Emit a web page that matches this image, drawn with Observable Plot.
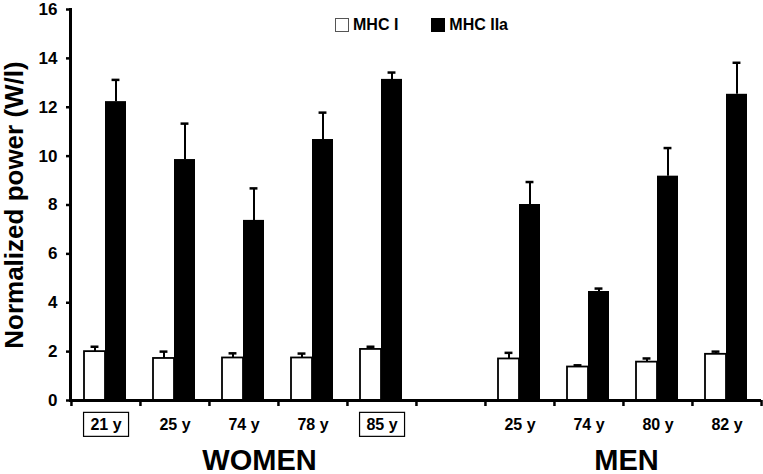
<!DOCTYPE html>
<html>
<head>
<meta charset="utf-8">
<script src="https://cdn.jsdelivr.net/npm/d3@7"></script>
<script src="https://cdn.jsdelivr.net/npm/@observablehq/plot@0.6"></script>
<style>
  body { margin: 0; background: white; }
  #wrap { position: relative; width: 763px; height: 474px; font-family: "Liberation Sans", Arial, sans-serif; font-weight: bold; }
  #legend { position: absolute; top: 16px; left: 335px; display: flex; align-items: center; font-size: 16px; }
  .sw { display: inline-block; width: 12px; height: 12px; border: 1px solid #555; margin-right: 4px; }
  .item { display: flex; align-items: center; margin-right: 33px; }
</style>
</head>
<body>
<div id="wrap">
  <div id="legend">
    <span class="item"><span class="sw" style="background:white"></span>MHC I</span>
    <span class="item"><span class="sw" style="background:black;border-color:black"></span>MHC IIa</span>
  </div>
</div>
<script>
// Categories (group keys), tick labels, and which labels are boxed
const groups = ["W21", "W25", "W74", "W78", "W85", "gap", "M25", "M74", "M80", "M82"];
const tickLabels = ["21 y", "25 y", "74 y", "78 y", "85 y", "", "25 y", "74 y", "80 y", "82 y"];
const boxedGroups = ["W21", "W85"];
// Series values (W/l) and upper error bar lengths
const mhcI     = [2.00, 1.72, 1.74, 1.74, 2.09, null, 1.70, 1.37, 1.57, 1.89];
const mhcIErr  = [0.20, 0.28, 0.19, 0.18, 0.11, null, 0.25, 0.07, 0.15, 0.11];
const mhcIIa   = [12.23, 9.86, 7.37, 10.68, 13.14, null, 8.02, 4.46, 9.18, 12.53];
const mhcIIaErr= [0.89, 1.47, 1.31, 1.10, 0.28, null, 0.92, 0.12, 1.15, 1.29];
const yTicks = [0, 2, 4, 6, 8, 10, 12, 14, 16];
const groupTitles = ["WOMEN", "MEN"];
const yTitle = "Normalized power (W/l)";

const rows = groups.map((g, i) => ({
  group: g, I: mhcI[i], Ierr: mhcIErr[i], IIa: mhcIIa[i], IIaErr: mhcIIaErr[i]
})).filter(d => d.I != null);

const W = 763, H = 474, mL = 70, mR = 2, mT = 9, mB = 74;
const step = (W - mL - mR) / groups.length;
const capInset = (step - 8) / 2;
const labelOf = d => tickLabels[groups.indexOf(d)];

const chart = Plot.plot({
  width: W, height: H,
  marginLeft: mL, marginRight: mR, marginTop: mT, marginBottom: mB,
  x: {domain: groups, padding: 0, axis: null},
  y: {domain: [0, 16], axis: null},
  style: {fontFamily: "'Liberation Sans', Arial, sans-serif", fontWeight: "bold", color: "black", background: "white", overflow: "visible"},
  marks: [
    Plot.barY(rows, {x: "group", y: "I", fill: "white", stroke: "black", strokeWidth: 1.8, insetLeft: 13, insetRight: 35}),
    Plot.barY(rows, {x: "group", y: "IIa", fill: "black", insetLeft: 34, insetRight: 14}),
    Plot.ruleX(rows, {x: "group", y1: "I", y2: d => d.I + d.Ierr, dx: -11, strokeWidth: 2}),
    Plot.tickY(rows, {x: "group", y: d => d.I + d.Ierr, dx: -11, insetLeft: capInset, insetRight: capInset, strokeWidth: 2.5}),
    Plot.ruleX(rows, {x: "group", y1: "IIa", y2: d => d.IIa + d.IIaErr, dx: 10, strokeWidth: 2}),
    Plot.tickY(rows, {x: "group", y: d => d.IIa + d.IIaErr, dx: 10, insetLeft: capInset, insetRight: capInset, strokeWidth: 2.5}),
    Plot.ruleY([0], {strokeWidth: 3}),
    Plot.frame({anchor: "left", strokeWidth: 3}),
    Plot.axisY({ticks: yTicks, tickSize: 4, tickPadding: 9, fontSize: 17, strokeWidth: 2.5, label: null}),
    Plot.axisY({ticks: [], label: yTitle, labelAnchor: "center", labelOffset: 66, fontSize: 26, labelArrow: "none"}),
    Plot.axisX({tickSize: 0, tickPadding: 18, tickFormat: labelOf, fontSize: 16, label: null}),
    Plot.axisX({tickSize: 6, strokeWidth: 2.5, dx: -step / 2, tickFormat: () => "", label: null}),
    Plot.axisX({ticks: [groups[groups.length - 1]], tickSize: 6, strokeWidth: 2.5, dx: step / 2, tickFormat: () => "", label: null}),
    Plot.text([groupTitles[0]], {x: () => "W74", frameAnchor: "bottom", dx: 15.5, dy: 69, text: d => d, fontSize: 29}),
    Plot.text([groupTitles[1]], {x: () => "M74", frameAnchor: "bottom", dx: 37.5, dy: 69, text: d => d, fontSize: 29})
  ]
});

document.getElementById("wrap").prepend(chart);

// Draw boxes around the highlighted tick labels
const boxedText = new Set(boxedGroups.map(labelOf));
chart.querySelectorAll("g[aria-label='x-axis tick label'] text").forEach(t => {
  if (!boxedText.has(t.textContent)) return;
  const b = t.getBBox();
  const r = document.createElementNS("http://www.w3.org/2000/svg", "rect");
  const cx = b.x + b.width / 2, cy = b.y + b.height / 2;
  r.setAttribute("x", cx - 22.5);
  r.setAttribute("y", cy - 12);
  r.setAttribute("width", 45);
  r.setAttribute("height", 24);
  r.setAttribute("fill", "none");
  r.setAttribute("stroke", "black");
  r.setAttribute("stroke-width", 1.2);
  if (t.getAttribute("transform")) r.setAttribute("transform", t.getAttribute("transform"));
  t.parentNode.insertBefore(r, t);
});
</script>
</body>
</html>
